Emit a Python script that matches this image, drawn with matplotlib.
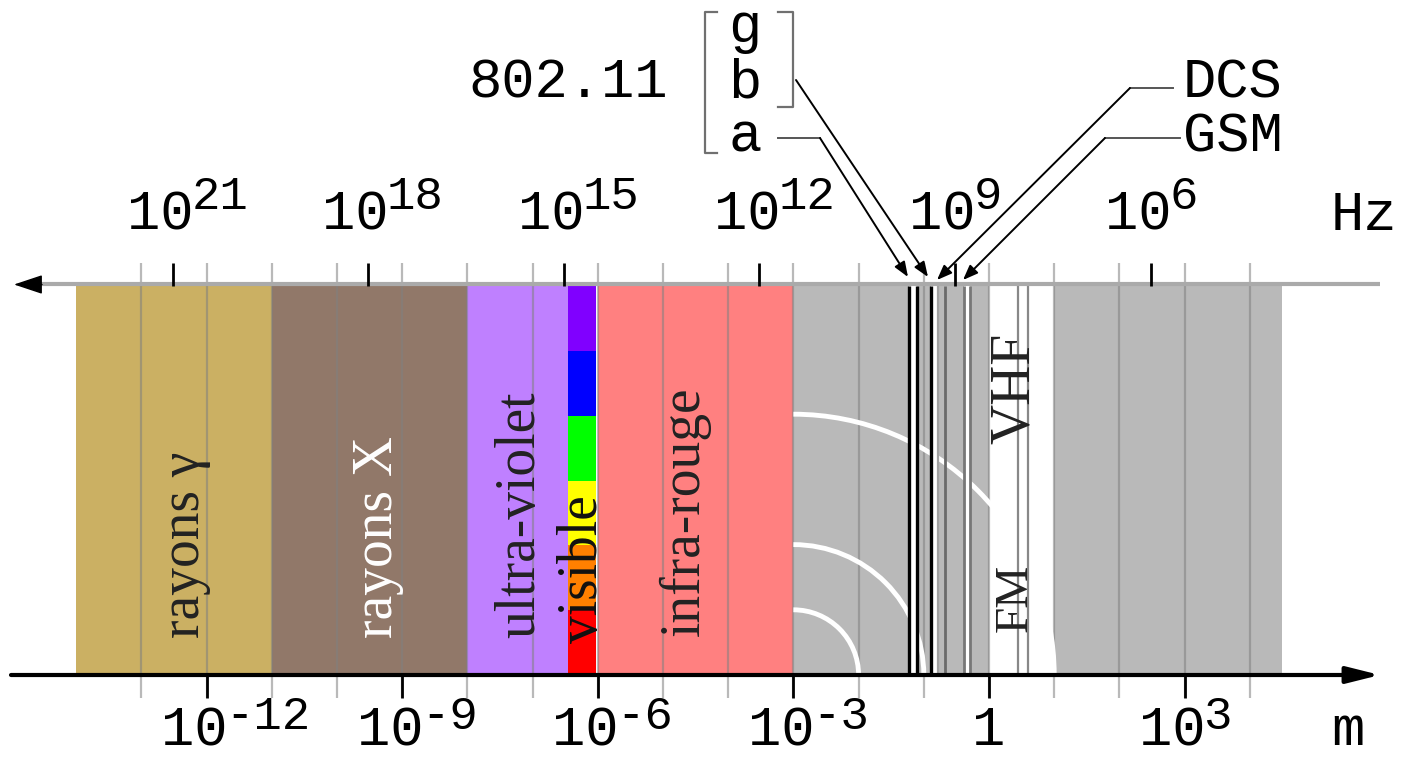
import numpy as np
import matplotlib
import matplotlib.pyplot as plt
from matplotlib.patches import Rectangle, Arc

matplotlib.rcParams['font.family'] = ['Liberation Mono', 'DejaVu Sans Mono']
serif = ['Liberation Serif', 'DejaVu Serif']

# domaines du spectre, en log10 de la longueur d'onde (m)
band_names = ['rayons γ', 'rayons X', 'ultra-violet', 'visible', 'infra-rouge', 'micro-ondes', 'VHF', 'radio']
band_lo = [-14.0, -11.0, -8.0, -6.45, -6.0, -3.0, 0.0, 1.0]
band_hi = [-11.0, -8.0, -6.45, -6.03, -3.0, 0.0, 1.0, 4.5]
band_colors = ['#cbb063', '#917869', '#bf80ff', 'none', '#ff8080', '#b9b9b9', '#ffffff', '#b9b9b9']

# couleurs du visible, du rouge (bas) au violet (haut)
visible_colors = ['#ff0000', '#ff8000', '#ffff00', '#00ff00', '#0000ff', '#8000ff']

decades = np.arange(-13, 5)
m_ticks = [-12, -9, -6, -3, 0, 3]
m_exp = ['-12', '-9', '-6', '-3', '', '3']
hz_exp = [21, 18, 15, 12, 9, 6]
c = 3e8

# bandes radio (log10 m)
wifi_a = [-1.222, -1.108]
wifi_bg = [-0.885, -0.78]
dcs = [-0.675]
gsm = [-0.39, -0.29]
fm = [0.45, 0.6]
wave_radii = [1, 2, 4]

# étiquettes verticales
lab_text = ['rayons γ', 'rayons X', 'ultra-violet', 'visible', 'infra-rouge', 'VHF', 'FM']
lab_x = [-12.33, -9.37, -7.19, -6.23, -4.66, 0.40, 0.40]
lab_y = [0.095, 0.095, 0.095, 0.082, 0.10, 0.593, 0.11]
lab_size = [40, 40, 40, 40, 40, 40, 34]
lab_col = ['#222222', 'white', '#222222', '#111111', '#222222', '#222222', '#222222']

# échelle pixels -> données
PX = 65.2
X0 = 989
Y0 = 675
YS = 389


def X(px):
    return (px - X0) / PX


def Y(py):
    return (Y0 - py) / YS


fig = plt.figure(figsize=(14.02, 7.58), dpi=100)
ax = fig.add_axes([0, 0, 1, 1])
ax.set_xlim(X(0), X(1402))
ax.set_ylim(Y(758), Y(0))
ax.axis('off')

for lo, hi, col in zip(band_lo, band_hi, band_colors):
    if col != 'none':
        ax.add_patch(Rectangle((lo, 0), hi - lo, 1, fc=col, ec='none', zorder=1))
for i, col in enumerate(visible_colors):
    ax.add_patch(Rectangle((band_lo[3], i / 6), band_hi[3] - band_lo[3], 1 / 6, fc=col, ec='none', zorder=1))

# bandes des télécoms
for lo, hi in [wifi_a, wifi_bg, gsm]:
    ax.add_patch(Rectangle((lo, 0), hi - lo, 1, fc='white', ec='none', zorder=2))

ax.vlines(decades, Y(698), Y(263), colors=[(0.5, 0.5, 0.5, 0.55)], lw=1.6, zorder=3)
ax.vlines(m_ticks, Y(698), 0, colors='k', lw=2, zorder=3)

for r in wave_radii:
    ax.add_patch(Arc((-3, 0), 2 * r, 2 * r * PX / YS, theta1=0, theta2=90,
                     color='white', lw=3.5, zorder=4))

ax.vlines(wifi_a + [wifi_bg[0]], 0, 1, colors='k', lw=2.4, zorder=5)
ax.vlines([wifi_bg[1]], 0, 1, colors='#a0a0a0', lw=1.6, zorder=5)
ax.vlines(dcs, 0, 1, colors='#6a6a6a', lw=2, zorder=5)
ax.vlines(gsm, 0, 1, colors='#777777', lw=2, zorder=5)
ax.vlines(fm, 0, 1, colors='#888888', lw=1.6, zorder=5)

# axe des fréquences (haut)
ax.plot([X(40), X(1380)], [Y(284.5), Y(284.5)], color='#aaaaaa', lw=3, zorder=6,
        solid_capstyle='butt')
ax.annotate('', xy=(X(14), Y(284.5)), xytext=(X(42), Y(284.5)),
            arrowprops=dict(arrowstyle='-|>,head_length=1.8,head_width=0.6', color='k',
                            lw=1, shrinkA=0, shrinkB=0), zorder=7)
ax.vlines(np.log10(c) - np.array(hz_exp), 1.0, Y(263), colors='k', lw=2, zorder=7)

# axe des longueurs d'onde (bas)
ax.annotate('', xy=(X(1380), 0), xytext=(X(11), 0),
            arrowprops=dict(arrowstyle='-|>,head_length=2.0,head_width=0.5', color='k',
                            lw=3, shrinkA=0, shrinkB=0), zorder=7)

for t, e in zip(m_ticks, m_exp):
    if e == '':
        ax.text(t, Y(757), '1', ha='center', va='bottom', fontsize=40)
    else:
        ax.text(t - 0.7, Y(757), '10', ha='left', va='bottom', fontsize=40)
        ax.text(t + 0.29, Y(739), e, ha='left', va='bottom', fontsize=34)

for n in hz_exp:
    t = np.log10(c) - n
    ax.text(t - 0.7, Y(230), '10', ha='left', va='baseline', fontsize=40)
    ax.text(t + 0.29, Y(209), str(n), ha='left', va='baseline', fontsize=34)

ax.text(X(1331), Y(230), 'Hz', ha='left', va='baseline', fontsize=40)
ax.text(X(1331), Y(757), 'm', ha='left', va='bottom', fontsize=40)

for s, x, y, fs, col in zip(lab_text, lab_x, lab_y, lab_size, lab_col):
    ax.text(x, y, s, rotation=90, rotation_mode='anchor', ha='left', va='center',
            family=serif, fontsize=fs, color=col, zorder=8)

# 802.11, DCS, GSM
ax.text(X(468), Y(97), '802.11', ha='left', va='baseline', fontsize=40)
ax.text(X(745), Y(42), 'g', ha='center', va='baseline', fontsize=40)
ax.text(X(745), Y(97), 'b', ha='center', va='baseline', fontsize=40)
ax.text(X(745), Y(152), 'a', ha='center', va='baseline', fontsize=40)
ax.plot([X(717), X(705), X(705), X(717)], [Y(12), Y(12), Y(153), Y(153)], color='#707070', lw=1.6)
ax.plot([X(778), X(793), X(793), X(778)], [Y(12), Y(12), Y(107), Y(107)], color='#707070', lw=1.6)
ax.text(X(1183), Y(98), 'DCS', ha='left', va='baseline', fontsize=40)
ax.text(X(1183), Y(151), 'GSM', ha='left', va='baseline', fontsize=40)

arrow = dict(arrowstyle='-|>,head_length=0.9,head_width=0.35', color='k', lw=1.4, shrinkA=0, shrinkB=0)
ax.plot([X(778), X(820)], [Y(138), Y(138)], color='#555555', lw=1.4)
ax.annotate('', xy=(X(908), Y(277)), xytext=(X(820), Y(138)), arrowprops=arrow)
ax.annotate('', xy=(X(928), Y(277)), xytext=(X(796), Y(80)), arrowprops=arrow)
ax.plot([X(1173), X(1130)], [Y(88), Y(88)], color='#555555', lw=1.4)
ax.annotate('', xy=(X(937), Y(280)), xytext=(X(1130), Y(88)), arrowprops=arrow)
ax.plot([X(1180), X(1105)], [Y(138), Y(138)], color='#555555', lw=1.4)
ax.annotate('', xy=(X(963), Y(280)), xytext=(X(1105), Y(138)), arrowprops=arrow)

fig.savefig('out.png', dpi=100)
